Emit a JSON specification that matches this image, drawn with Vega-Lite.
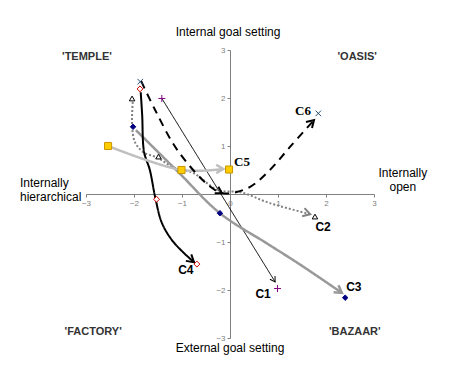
{
  "$schema": "https://vega.github.io/schema/vega-lite/v6.json",
  "width": 288,
  "height": 288,
  "autosize": {"type": "none"},
  "padding": {"left": 86, "top": 50, "right": 86, "bottom": 31},
  "background": "white",
  "config": {"view": {"stroke": null}},
  "resolve": {"scale": {"stroke": "independent", "size": "independent", "strokeWidth": "independent", "angle": "independent", "fill": "independent", "shape": "independent", "color": "independent", "strokeDash": "independent"}},
  "datasets": {
    "paths": [
      {"series": "C1", "i": 1, "x": -1.42, "y": 1.99},
      {"series": "C1", "i": 2, "x": 0.94, "y": -1.83},
      {"series": "C2", "i": 1, "x": -2.02, "y": 2.0},
      {"series": "C2", "i": 2, "x": -2.04, "y": 1.44},
      {"series": "C2", "i": 3, "x": -1.98, "y": 1.08},
      {"series": "C2", "i": 4, "x": -1.81, "y": 0.875},
      {"series": "C2", "i": 5, "x": -1.5, "y": 0.75},
      {"series": "C2", "i": 6, "x": -1.19, "y": 0.56},
      {"series": "C2", "i": 7, "x": -0.77, "y": 0.44},
      {"series": "C2", "i": 8, "x": -0.25, "y": 0.08},
      {"series": "C2", "i": 9, "x": 0.21, "y": 0.04},
      {"series": "C2", "i": 10, "x": 0.83, "y": -0.19},
      {"series": "C2", "i": 11, "x": 1.67, "y": -0.42},
      {"series": "C3", "i": 1, "x": -1.96, "y": 1.33},
      {"series": "C3", "i": 2, "x": -1.08, "y": 0.46},
      {"series": "C3", "i": 3, "x": -0.21, "y": -0.4},
      {"series": "C3", "i": 4, "x": 0.77, "y": -1.03},
      {"series": "C3", "i": 5, "x": 1.46, "y": -1.47},
      {"series": "C3", "i": 6, "x": 2.33, "y": -2.06},
      {"series": "C4", "i": 1, "x": -1.86, "y": 2.12},
      {"series": "C4", "i": 2, "x": -1.83, "y": 1.65},
      {"series": "C4", "i": 3, "x": -1.79, "y": 0.875},
      {"series": "C4", "i": 4, "x": -1.67, "y": 0.5},
      {"series": "C4", "i": 5, "x": -1.56, "y": -0.06},
      {"series": "C4", "i": 6, "x": -1.42, "y": -0.6},
      {"series": "C4", "i": 7, "x": -1.21, "y": -0.96},
      {"series": "C4", "i": 8, "x": -0.98, "y": -1.21},
      {"series": "C4", "i": 9, "x": -0.75, "y": -1.42},
      {"series": "C5", "i": 1, "x": -2.54, "y": 1.0},
      {"series": "C5", "i": 2, "x": -1.0, "y": 0.5},
      {"series": "C5", "i": 3, "x": -0.14, "y": 0.52},
      {"series": "C6", "i": 1, "x": -1.85, "y": 2.35},
      {"series": "C6", "i": 2, "x": -1.56, "y": 1.75},
      {"series": "C6", "i": 3, "x": -1.1, "y": 0.92},
      {"series": "C6", "i": 4, "x": -0.46, "y": 0.19},
      {"series": "C6", "i": 5, "x": -0.17, "y": 0.02},
      {"series": "C6", "i": 6, "x": 0.04, "y": 0.02},
      {"series": "C6", "i": 7, "x": 0.42, "y": 0.15},
      {"series": "C6", "i": 8, "x": 0.83, "y": 0.5},
      {"series": "C6", "i": 9, "x": 1.25, "y": 0.98},
      {"series": "C6", "i": 10, "x": 1.75, "y": 1.54}
    ],
    "markers": [
      {"series": "C1", "x": -1.42, "y": 1.99},
      {"series": "C1", "x": 0.99, "y": -1.97},
      {"series": "C2", "x": -2.04, "y": 1.99},
      {"series": "C2", "x": -1.49, "y": 0.78},
      {"series": "C2", "x": 1.77, "y": -0.47},
      {"series": "C3", "x": -2.02, "y": 1.4},
      {"series": "C3", "x": -0.21, "y": -0.4},
      {"series": "C3", "x": 2.4, "y": -2.16},
      {"series": "C4", "x": -1.875, "y": 2.19},
      {"series": "C4", "x": -1.53, "y": -0.11},
      {"series": "C4", "x": -0.69, "y": -1.46},
      {"series": "C5", "x": -2.54, "y": 1.0},
      {"series": "C5", "x": -1.01, "y": 0.5},
      {"series": "C5", "x": -0.02, "y": 0.51},
      {"series": "C6", "x": -1.87, "y": 2.34},
      {"series": "C6", "x": 1.84, "y": 1.68}
    ],
    "arrows": [
      {"id": "C1", "x": 0.94, "y": -1.83},
      {"id": "C2", "x": 1.67, "y": -0.42},
      {"id": "C3", "x": 2.33, "y": -2.06},
      {"id": "C4", "x": -0.75, "y": -1.42},
      {"id": "C5", "x": -0.14, "y": 0.52},
      {"id": "C6", "x": 1.75, "y": 1.54},
      {"id": "C6m", "x": -0.17, "y": 0.02}
    ],
    "seriesLabels": [
      {"label": "C1", "x": 0.69, "y": -2.08, "serif": "no"},
      {"label": "C2", "x": 1.94, "y": -0.69, "serif": "no"},
      {"label": "C3", "x": 2.58, "y": -1.94, "serif": "no"},
      {"label": "C4", "x": -0.92, "y": -1.58, "serif": "no"},
      {"label": "C5", "x": 0.25, "y": 0.67, "serif": "yes"},
      {"label": "C6", "x": 1.52, "y": 1.73, "serif": "yes"}
    ],
    "quadrants": [
      {"label": "'TEMPLE'", "x": -2.98, "y": 2.85},
      {"label": "'OASIS'", "x": 2.65, "y": 2.85},
      {"label": "'FACTORY'", "x": -2.85, "y": -2.875},
      {"label": "'BAZAAR'", "x": 2.6, "y": -2.875}
    ],
    "titlesCenter": [
      {"label": "Internal goal setting", "x": -0.04, "y": 3.375},
      {"label": "External goal setting", "x": 0.0, "y": -3.21},
      {"label": "Internally", "x": 3.6, "y": 0.44},
      {"label": "open", "x": 3.6, "y": 0.15}
    ],
    "titlesLeft": [
      {"label": "Internally", "x": -4.375, "y": 0.23},
      {"label": "hierarchical", "x": -4.375, "y": -0.06}
    ]
  },
  "layer": [
    {
      "data": {"name": "paths"},
      "mark": {"type": "line", "interpolate": "catmull-rom", "clip": false},
      "encoding": {
        "x": {"field": "x", "type": "quantitative", "scale": {"domain": [-3, 3], "nice": false, "zero": false},
          "axis": {"orient": "bottom", "offset": -144, "values": [-3, -2, -1, 0, 1, 2, 3], "title": null, "grid": false,
            "domainColor": "#808080", "tickColor": "#808080", "tickSize": 3, "labelColor": "#808080", "labelFontSize": 8,
            "labelFont": "Liberation Sans", "labelPadding": 2, "labelFlush": false}},
        "y": {"field": "y", "type": "quantitative", "scale": {"domain": [-3, 3], "nice": false, "zero": false},
          "axis": {"orient": "left", "offset": -144, "values": [-3, -2, -1, 0, 1, 2, 3], "title": null, "grid": false,
            "domainColor": "#808080", "tickColor": "#808080", "tickSize": 3, "labelColor": "#808080", "labelFontSize": 8,
            "labelFont": "Liberation Sans", "labelPadding": 2, "labelFlush": false,
            "labelExpr": "datum.value == 0 ? '' : datum.label"}},
        "order": {"field": "i", "type": "quantitative"},
        "color": {"field": "series", "type": "nominal", "legend": null,
          "scale": {"domain": ["C1", "C2", "C3", "C4", "C5", "C6"], "range": ["#000000", "#808080", "#999999", "#000000", "#BFBFBF", "#000000"]}},
        "strokeDash": {"field": "series", "type": "nominal", "legend": null,
          "scale": {"domain": ["C1", "C2", "C3", "C4", "C5", "C6"], "range": [[1, 0], [2, 2], [1, 0], [1, 0], [1, 0], [8, 6]]}},
        "strokeWidth": {"field": "series", "type": "nominal", "legend": null,
          "scale": {"type": "ordinal", "domain": ["C1", "C2", "C3", "C4", "C5", "C6"], "range": [1, 2, 2.5, 2, 2.5, 2]}}
      }
    },
    {
      "data": {"name": "arrows"},
      "mark": {"type": "point", "shape": "M -0.6 1 L 0 0 L 0.6 1", "filled": false, "clip": false, "opacity": 1},
      "encoding": {
        "x": {"field": "x", "type": "quantitative"},
        "y": {"field": "y", "type": "quantitative"},
        "angle": {"field": "id", "type": "nominal", "legend": null,
          "scale": {"type": "ordinal", "domain": ["C1", "C2", "C3", "C4", "C5", "C6", "C6m"], "range": [148, 106, 125, 130, 90, 45, 120]}},
        "stroke": {"field": "id", "type": "nominal", "legend": null,
          "scale": {"domain": ["C1", "C2", "C3", "C4", "C5", "C6", "C6m"], "range": ["#000000", "#808080", "#999999", "#000000", "#BFBFBF", "#000000", "#000000"]}},
        "size": {"field": "id", "type": "nominal", "legend": null,
          "scale": {"type": "ordinal", "domain": ["C1", "C2", "C3", "C4", "C5", "C6", "C6m"], "range": [100, 200, 200, 200, 200, 200, 150]}},
        "strokeWidth": {"field": "id", "type": "nominal", "legend": null,
          "scale": {"type": "ordinal", "domain": ["C1", "C2", "C3", "C4", "C5", "C6", "C6m"], "range": [1, 2, 2.5, 2, 2.5, 2, 2]}}
      }
    },
    {
      "data": {"name": "markers"},
      "mark": {"type": "point", "filled": false, "strokeWidth": 1, "opacity": 1, "clip": false},
      "encoding": {
        "x": {"field": "x", "type": "quantitative"},
        "y": {"field": "y", "type": "quantitative"},
        "shape": {"field": "series", "type": "nominal", "legend": null,
          "scale": {"domain": ["C1", "C2", "C3", "C4", "C5", "C6"],
            "range": ["M -1 0 L 1 0 M 0 -1 L 0 1", "triangle-up", "diamond", "diamond", "square", "M -1 -1 L 1 1 M -1 1 L 1 -1"]}},
        "fill": {"field": "series", "type": "nominal", "legend": null,
          "scale": {"domain": ["C1", "C2", "C3", "C4", "C5", "C6"], "range": ["transparent", "white", "#000080", "white", "#FFCC00", "transparent"]}},
        "stroke": {"field": "series", "type": "nominal", "legend": null,
          "scale": {"domain": ["C1", "C2", "C3", "C4", "C5", "C6"], "range": ["#800080", "#000000", "#000080", "#CC0000", "#C89600", "#264D73"]}},
        "size": {"field": "series", "type": "nominal", "legend": null,
          "scale": {"type": "ordinal", "domain": ["C1", "C2", "C3", "C4", "C5", "C6"], "range": [49, 30, 30, 35, 50, 30]}}
      }
    },
    {
      "data": {"name": "seriesLabels"},
      "transform": [{"filter": "datum.serif == 'no'"}],
      "mark": {"type": "text", "font": "Liberation Sans", "fontSize": 12, "fontWeight": "bold", "color": "#000000", "align": "center", "baseline": "middle", "clip": false},
      "encoding": {
        "x": {"field": "x", "type": "quantitative"},
        "y": {"field": "y", "type": "quantitative"},
        "text": {"field": "label"}
      }
    },
    {
      "data": {"name": "seriesLabels"},
      "transform": [{"filter": "datum.serif == 'yes'"}],
      "mark": {"type": "text", "font": "Liberation Serif", "fontSize": 13, "fontWeight": "bold", "color": "#000000", "align": "center", "baseline": "middle", "clip": false},
      "encoding": {
        "x": {"field": "x", "type": "quantitative"},
        "y": {"field": "y", "type": "quantitative"},
        "text": {"field": "label"}
      }
    },
    {
      "data": {"name": "quadrants"},
      "mark": {"type": "text", "font": "Liberation Sans", "fontSize": 11, "fontWeight": "bold", "color": "#333333", "align": "center", "baseline": "middle", "clip": false},
      "encoding": {
        "x": {"field": "x", "type": "quantitative"},
        "y": {"field": "y", "type": "quantitative"},
        "text": {"field": "label"}
      }
    },
    {
      "data": {"name": "titlesCenter"},
      "mark": {"type": "text", "font": "Liberation Sans", "fontSize": 12, "color": "#000000", "align": "center", "baseline": "middle", "clip": false},
      "encoding": {
        "x": {"field": "x", "type": "quantitative"},
        "y": {"field": "y", "type": "quantitative"},
        "text": {"field": "label"}
      }
    },
    {
      "data": {"name": "titlesLeft"},
      "mark": {"type": "text", "font": "Liberation Sans", "fontSize": 12, "color": "#000000", "align": "left", "baseline": "middle", "clip": false},
      "encoding": {
        "x": {"field": "x", "type": "quantitative"},
        "y": {"field": "y", "type": "quantitative"},
        "text": {"field": "label"}
      }
    }
  ]
}
